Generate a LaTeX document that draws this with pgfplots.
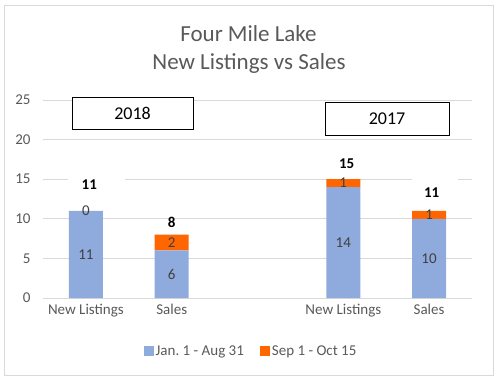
\documentclass[border=0pt]{standalone}
\usepackage{pgfplots}
\pgfplotsset{compat=1.18}
\usepackage{fontspec}
\setmainfont{Carlito}
\frenchspacing
\definecolor{barblue}{HTML}{8FAADC}
\definecolor{barorange}{HTML}{FF6600}
\definecolor{textgray}{HTML}{595959}
\definecolor{labelgray}{HTML}{404040}
\definecolor{gridgray}{HTML}{D9D9D9}
\begin{document}
\begin{tikzpicture}[x=1pt,y=1pt]
\path (0,0) rectangle (500,381);
\draw[gridgray, line width=1pt] (4,6) rectangle (493,375);
\node[anchor=base, text=textgray, font=\fontsize{23}{27}\selectfont] at (248.5,339) {Four Mile Lake};
\node[anchor=base, text=textgray, font=\fontsize{23}{27}\selectfont] at (249,311) {New Listings vs Sales};
\begin{axis}[
  at={(43pt,83pt)}, anchor=south west, scale only axis,
  width=429pt, height=198pt,
  ybar stacked, bar width=34pt,
  xmin=-0.5, xmax=4.5, ymin=0, ymax=25,
  xtick={0,1,3,4}, xticklabels={New Listings,Sales,New Listings,Sales},
  ytick={0,5,10,15,20,25},
  ymajorgrids, grid style={draw=gridgray, line width=0.8pt},
  separate axis lines,
  axis x line*=bottom, axis y line*=left,
  x axis line style={draw=gridgray, line width=0.8pt, -},
  y axis line style={draw=none},
  tick style={draw=none},
  /pgf/number format/assume math mode=true,
  tick label style={font=\fontsize{15}{18}\selectfont, text=textgray},
  yticklabel style={xshift=-9pt},
  xticklabel style={yshift=-3pt},
  legend columns=2,
  legend style={at={(0.485,-0.268)}, anchor=center, draw=none, fill=none,
    font=\fontsize{15}{18}\selectfont, text=textgray,
    /tikz/every even column/.append style={column sep=14pt},
    nodes={inner xsep=2pt}},
  legend image code/.code={\fill[#1,draw=none] (0pt,-5pt) rectangle (10pt,5pt);},
]
\addplot[fill=barblue, draw=none] coordinates {(0,11) (1,6) (3,14) (4,10)};
\addlegendentry{Jan. 1 - Aug 31}
\addplot[fill=barorange, draw=none] coordinates {(0,0) (1,2) (3,1) (4,1)};
\addlegendentry{Sep 1 - Oct 15}
% label anchors
\coordinate (a1) at (axis cs:0,5.5);
\coordinate (a2) at (axis cs:0,11);
\coordinate (a3) at (axis cs:1,3);
\coordinate (a4) at (axis cs:1,7);
\coordinate (a5) at (axis cs:3,7);
\coordinate (a6) at (axis cs:3,14.5);
\coordinate (a7) at (axis cs:4,5);
\coordinate (a8) at (axis cs:4,10.5);
\coordinate (w1a) at (axis cs:-0.209,12.75);
\coordinate (w1b) at (axis cs:0.456,15.53);
\coordinate (w2a) at (axis cs:3.80,11.87);
\coordinate (w2b) at (axis cs:4.34,15.28);
\coordinate (t1) at (axis cs:0.04,14.3);
\coordinate (t2) at (axis cs:1,9.5);
\coordinate (t3) at (axis cs:3.04,16.9);
\coordinate (t4) at (axis cs:4.03,13.3);
\end{axis}
\begin{scope}[every node/.style={text=labelgray, font=\fontsize{15}{18}\selectfont}]
\node at (a1) {11};
\node at (a2) {0};
\node at (a3) {6};
\node at (a4) {2};
\node at (a5) {14};
\node at (a6) {1};
\node at (a7) {10};
\node at (a8) {1};
\end{scope}
\fill[white] (w1a) rectangle (w1b);
\fill[white] (w2a) rectangle (w2b);
\begin{scope}[every node/.style={text=black, font=\bfseries\fontsize{15}{18}\selectfont}]
\node at (t1) {11};
\node at (t2) {8};
\node at (t3) {15};
\node at (t4) {11};
\end{scope}
\draw[black, line width=0.8pt, fill=white] (72,252) rectangle (193,284);
\node[font=\fontsize{18}{21}\selectfont] at (132.5,268) {2018};
\draw[black, line width=0.8pt, fill=white] (325,246) rectangle (449,279);
\node[font=\fontsize{18}{21}\selectfont] at (387,262.5) {2017};
\end{tikzpicture}
\end{document}
